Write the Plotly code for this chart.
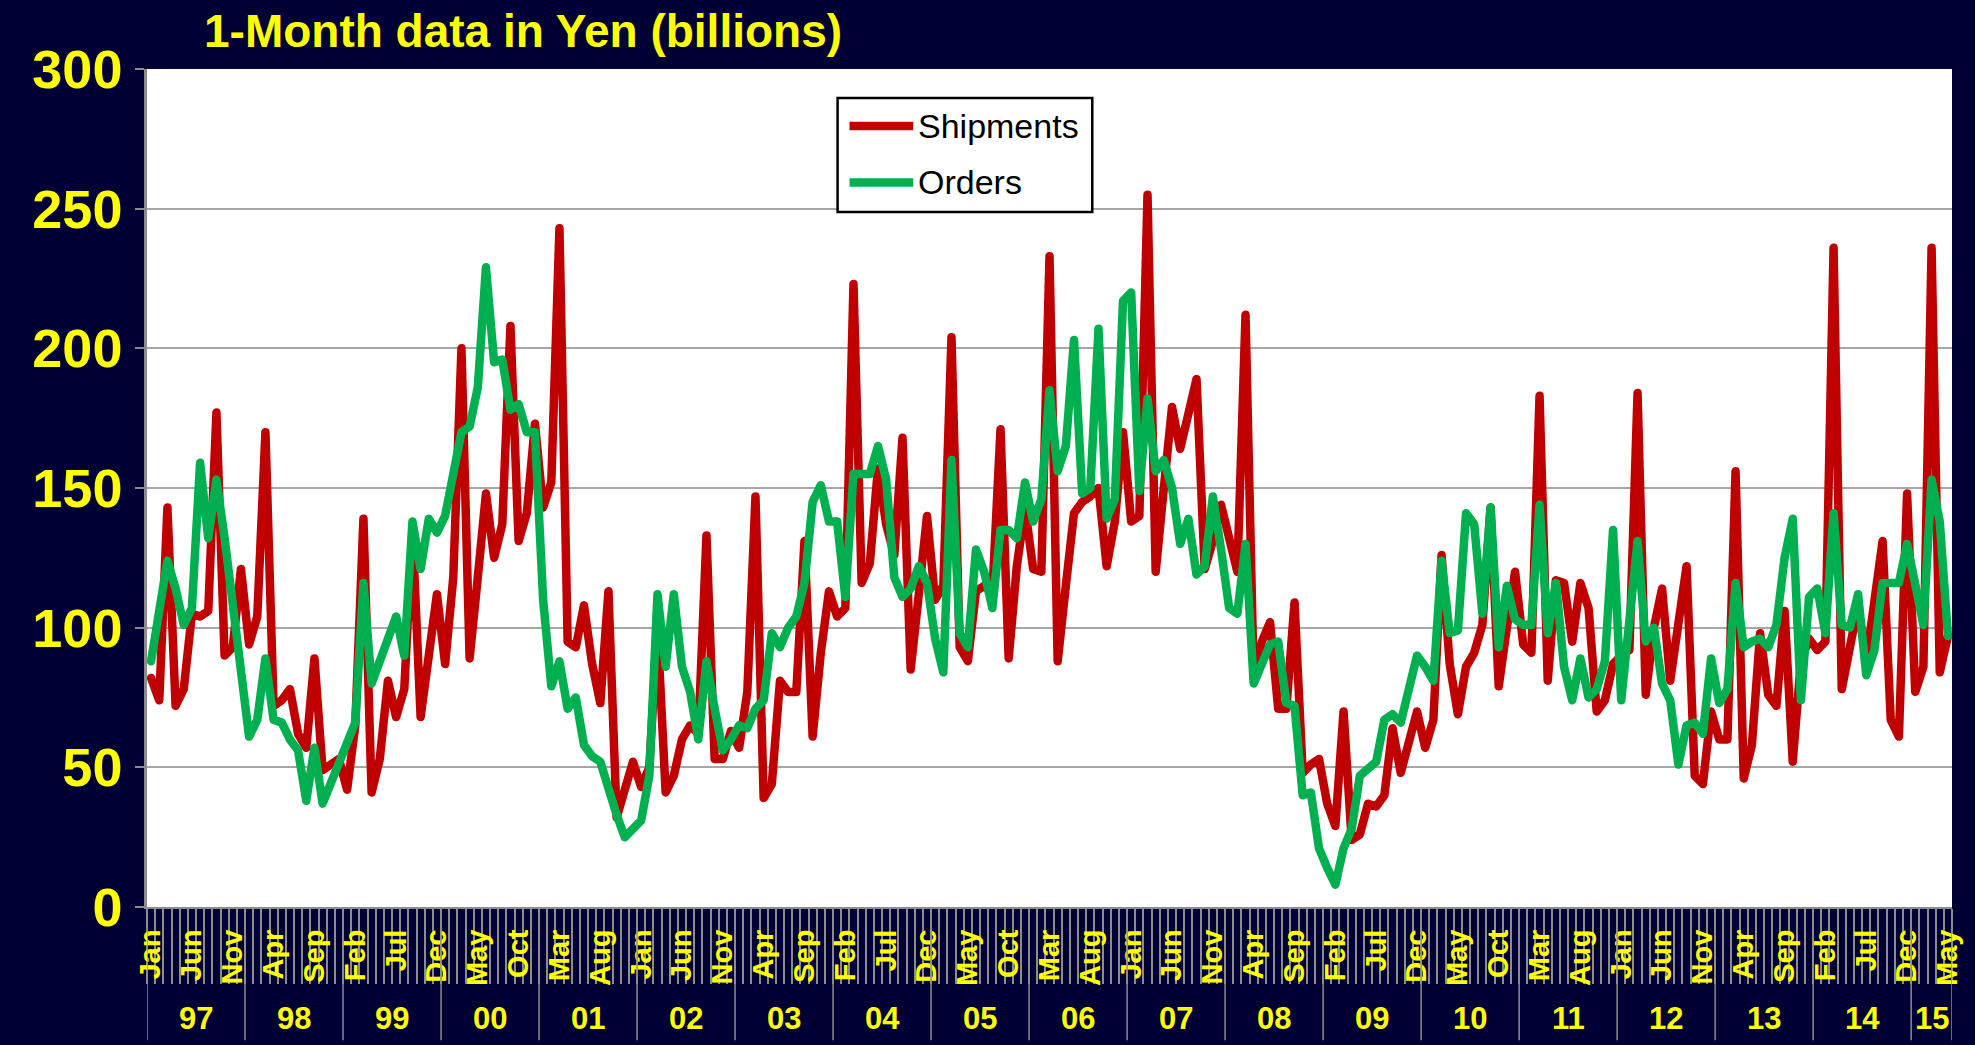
import plotly.graph_objects as go

# monthly data, Jan 1997 .. May 2015, yen billions
month_names = ['Jan', 'Feb', 'Mar', 'Apr', 'May', 'Jun',
               'Jul', 'Aug', 'Sep', 'Oct', 'Nov', 'Dec']
years = ['97', '98', '99', '00', '01', '02', '03', '04', '05',
         '06', '07', '08', '09', '10', '11', '12', '13', '14', '15']

shipments = [
    82, 74, 143, 72, 78, 105, 104, 106, 177, 90, 93, 121,      # 97
    94, 104, 170, 72, 74, 78, 62, 57, 89, 49, 51, 53,          # 98
    42, 65, 139, 41, 53, 81, 68, 78, 135, 68, 90, 112,         # 99
    87, 118, 200, 89, 118, 148, 125, 137, 208, 131, 141, 173,  # 00
    143, 152, 243, 95, 93, 108, 87, 73, 113, 32, 42, 52,       # 01
    43, 50, 100, 41, 47, 60, 65, 62, 133, 53, 53, 63,          # 02
    57, 77, 147, 39, 44, 81, 77, 77, 131, 61, 91, 113,         # 03
    104, 107, 223, 116, 123, 157, 137, 126, 168, 85, 112, 140, # 04
    110, 115, 204, 93, 88, 113, 115, 112, 171, 89, 122, 143,   # 05
    121, 120, 233, 88, 115, 141, 145, 147, 150, 122, 138, 170, # 06
    138, 140, 255, 120, 150, 179, 164, 176, 189, 121, 131, 144,# 07
    133, 120, 212, 82, 95, 102, 71, 71, 109, 48, 51, 53,       # 08
    37, 29, 70, 24, 26, 37, 36, 40, 64, 48, 59, 70,            # 09
    57, 67, 126, 87, 69, 86, 91, 101, 143, 79, 100, 120,       # 10
    94, 91, 183, 81, 117, 116, 95, 116, 107, 70, 74, 87,       # 11
    90, 92, 184, 76, 100, 114, 81, 100, 122, 47, 44, 70,       # 12
    60, 60, 156, 46, 58, 98, 76, 72, 106, 52, 88, 96,          # 13
    92, 95, 236, 78, 95, 108, 88, 110, 131, 67, 61, 148,       # 14
    77, 86, 236, 84, 97,                                       # 15
]

orders = [
    88, 105, 124, 114, 101, 107, 159, 132, 153, 132, 107, 83,  # 97
    61, 67, 89, 67, 66, 60, 56, 38, 57, 37, 44, 51,            # 98
    59, 66, 116, 80, 88, 96, 104, 90, 138, 121, 139, 134,      # 99
    140, 155, 170, 172, 186, 229, 195, 196, 178, 180, 170, 170,# 00
    110, 79, 88, 71, 75, 58, 54, 52, 42, 33, 25, 28,           # 01
    31, 47, 112, 86, 112, 86, 77, 60, 88, 71, 56, 60,          # 02
    65, 64, 71, 74, 98, 93, 100, 104, 116, 145, 151, 138,      # 03
    138, 111, 155, 155, 155, 165, 153, 118, 111, 114, 122, 116,# 04
    96, 84, 160, 98, 93, 128, 120, 107, 135, 135, 132, 152,    # 05
    138, 146, 185, 156, 165, 203, 148, 150, 207, 139, 146, 217,# 06
    220, 149, 182, 156, 160, 150, 130, 139, 119, 122, 147, 128,# 07
    107, 105, 130, 80, 87, 94, 95, 73, 72, 40, 41, 21,         # 08
    14, 8, 21, 28, 47, 50, 52, 67, 69, 66, 78, 90,             # 09
    86, 81, 124, 98, 99, 141, 137, 105, 143, 93, 115, 103,     # 10
    101, 101, 144, 98, 116, 86, 74, 89, 75, 78, 88, 135,       # 11
    74, 100, 131, 95, 100, 80, 74, 51, 65, 66, 62, 89,         # 12
    73, 78, 116, 93, 95, 96, 93, 101, 125, 139, 74, 111,       # 13
    114, 98, 141, 101, 100, 112, 83, 92, 116, 116, 116, 130,   # 14
    115, 101, 153, 138, 97,                                    # 15
]

series_names = ['Shipments', 'Orders']
series_colors = ['#C00000', '#00B050']

BG = '#000035'
YELLOW = '#FFFF00'
GREY = '#8C8C8C'
FONT = 'Liberation Sans, Arial, sans-serif'
LW = 8.5

n = len(shipments)
x = list(range(n))

fig = go.Figure()
for name, vals, col in zip(series_names, [shipments, orders], series_colors):
    fig.add_trace(go.Scatter(x=x, y=vals, mode='lines', name=name,
                             line=dict(color=col, width=LW)))

# month labels every 5 months
tickvals = x[::5]
ticktext = [month_names[i % 12] for i in tickvals]

# year row below the month labels
shapes = []
annotations = []
for k, yr in enumerate(years):
    first = k * 12
    last = min(first + 11, n - 1)
    annotations.append(dict(x=(first + last) / 2, y=-0.1325, xref='x', yref='paper',
                            text=yr, showarrow=False, yanchor='middle',
                            font=dict(family=FONT, size=31, color=YELLOW, weight='bold')))
    shapes.append(dict(type='line', xref='x', yref='paper', x0=first - 0.5, x1=first - 0.5,
                       y0=0, y1=-0.159, line=dict(color=GREY, width=1.5)))
shapes.append(dict(type='line', xref='x', yref='paper', x0=n - 0.5, x1=n - 0.5,
                   y0=0, y1=-0.159, line=dict(color=GREY, width=1.5)))

# hand-drawn legend box like the original
shapes.append(dict(type='rect', xref='paper', yref='paper', x0=0.3826, x1=0.5237,
                   y0=0.8294, y1=0.9654, fillcolor='white', line=dict(color='black', width=2.5),
                   layer='above'))
for name, col, ly in zip(series_names, series_colors, [0.932, 0.8646]):
    shapes.append(dict(type='line', xref='paper', yref='paper', x0=0.3892, x1=0.4245,
                       y0=ly, y1=ly, line=dict(color=col, width=LW), layer='above'))
    annotations.append(dict(x=0.4261, y=ly, xref='paper', yref='paper', text=name,
                            showarrow=False, xanchor='left', yanchor='middle',
                            font=dict(family=FONT, size=34, color='black')))

fig.update_layout(
    width=1975, height=1045,
    paper_bgcolor=BG, plot_bgcolor='white',
    margin=dict(l=147, r=14, t=69, b=138, pad=0),
    showlegend=False,
    title=dict(text='1-Month data in Yen (billions)', xref='container', yref='container',
               x=204 / 1975, xanchor='left', y=1 - 31 / 1045, yanchor='middle',
               font=dict(family=FONT, size=46, color=YELLOW, weight='bold')),
    xaxis=dict(range=[-0.5, n - 0.5], tickmode='array', tickvals=tickvals, ticktext=ticktext,
               tickangle=-90, ticks='', showgrid=False, zeroline=False,
               showline=True, linecolor=GREY, linewidth=2, ticklabelstandoff=9,
               tickfont=dict(family=FONT, size=29, color=YELLOW, weight='bold'),
               minor=dict(tickmode='linear', tick0=-0.5, dtick=1, ticks='outside',
                          ticklen=75, tickcolor=GREY, tickwidth=1.5, showgrid=False)),
    yaxis=dict(range=[0, 300], tickmode='linear', tick0=0, dtick=50,
               showgrid=True, gridcolor='#A6A6A6', gridwidth=1.5, zeroline=False,
               showline=True, linecolor=GREY, linewidth=2.5,
               ticks='outside', ticklen=9, tickcolor=GREY, tickwidth=2,
               ticklabelstandoff=2,
               tickfont=dict(family=FONT, size=54, color=YELLOW, weight='bold')),
    shapes=shapes,
    annotations=annotations,
)

# drop the page margin so the figure sits at the window origin, round the line joins
fig.write_html("out.html",
               config={'displayModeBar': False},
               post_script="document.body.style.margin='0';"
                           "document.documentElement.style.overflow='hidden';"
                           "document.querySelectorAll('.scatterlayer path.js-line')"
                           ".forEach(function(p){p.style.strokeLinejoin='round';"
                           "p.style.strokeLinecap='round';});")
